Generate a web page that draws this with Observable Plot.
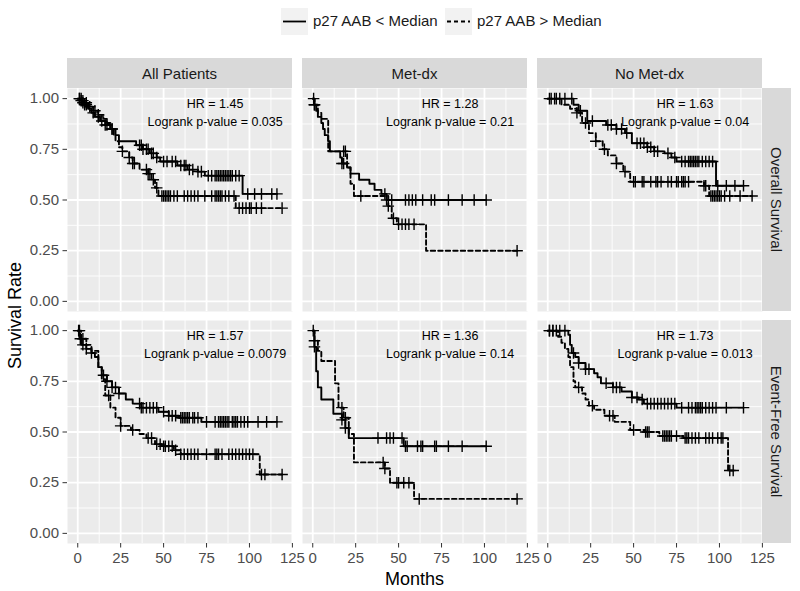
<!DOCTYPE html>
<html>
<head>
<meta charset="utf-8">
<script src="https://cdn.jsdelivr.net/npm/d3@7"></script>
<script src="https://cdn.jsdelivr.net/npm/@observablehq/plot@0.6"></script>
<style>
  body { margin: 0; background: #fff; font-family: "Liberation Sans", Arial, sans-serif; }
  #legend { position: relative; width: 800px; height: 42px; }
  .key { position: absolute; top: 8px; width: 27px; height: 27px; background: #F2F2F2; }
  .lab { position: absolute; top: 12px; font-size: 15px; color: #1A1A1A; white-space: nowrap; line-height: 18px; }
  #chart svg { display: block; }
</style>
</head>
<body>
<div id="legend"></div>
<div id="chart"></div>
<script>
// ---------- categories / labels ----------
const cols = ["All Patients", "Met-dx", "No Met-dx"];
const rows = ["Overall Survival", "Event-Free Survival"];
const groups = ["p27 AAB < Median", "p27 AAB > Median"];
const xTicks = [0, 25, 50, 75, 100, 125];
const xMinor = [12.5, 37.5, 62.5, 87.5, 112.5];
const yTicks = [0, 0.25, 0.5, 0.75, 1];
const yMinor = [0.125, 0.375, 0.625, 0.875];
const hrLabels = ["HR = 1.45", "HR = 1.28", "HR = 1.63", "HR = 1.57", "HR = 1.36", "HR = 1.73"];
const pLabels = ["Logrank p-value = 0.035", "Logrank p-value = 0.21", "Logrank p-value = 0.04",
                 "Logrank p-value = 0.0079", "Logrank p-value = 0.14", "Logrank p-value = 0.013"];
const annoX = 80, hrY = 0.975, pY = 0.887;

// ---------- Overall Survival, All Patients ----------
const osAllLoTime = [0, 2, 4, 6, 8, 10, 13, 16, 19, 22, 24, 34, 38, 42, 46, 48, 58, 64, 70, 74, 96];
const osAllLoSurv = [1, 0.99, 0.97, 0.95, 0.93, 0.91, 0.89, 0.87, 0.85, 0.82, 0.79, 0.77, 0.75, 0.73, 0.71, 0.69, 0.67, 0.65, 0.64, 0.62, 0.53];
const osAllLoCens = [1, 2, 3, 4, 5, 9, 12, 14, 16, 17, 20, 36, 37, 38, 40, 41, 43, 44, 46, 50, 52, 55, 57, 60, 62, 63, 65, 67, 70, 72, 76, 78, 80, 81, 82, 83, 84, 85, 86, 87, 88, 89, 90, 92, 94, 99, 103, 107, 113, 116];
const osAllHiTime = [0, 3, 6, 9, 12, 15, 17, 19, 21, 22, 24, 26, 30, 32, 36, 41, 43, 45, 47, 92];
const osAllHiSurv = [1, 0.98, 0.96, 0.94, 0.92, 0.90, 0.88, 0.85, 0.82, 0.79, 0.76, 0.74, 0.71, 0.68, 0.65, 0.63, 0.60, 0.56, 0.52, 0.46];
const osAllHiCens = [1, 2, 3, 5, 7, 10, 12, 20, 26, 30, 32, 33, 40, 41, 42, 44, 46, 49, 50, 51, 52, 53, 54, 56, 58, 62, 64, 66, 68, 70, 74, 78, 80, 81, 82, 83, 84, 86, 88, 91, 94, 96, 98, 100, 101, 104, 107, 119];

// ---------- Overall Survival, Met-dx ----------
const osMetLoTime = [0, 1, 2, 3, 5, 6, 7, 9, 10, 16, 17, 20, 22, 27, 33, 36, 40, 43];
const osMetLoSurv = [1, 0.97, 0.94, 0.91, 0.88, 0.85, 0.82, 0.79, 0.74, 0.71, 0.68, 0.66, 0.63, 0.60, 0.58, 0.55, 0.53, 0.50];
const osMetLoCens = [0.5, 1, 17, 18, 42, 43, 46, 54, 56, 58, 60, 64, 69, 71, 79, 87, 94, 101];
const osMetHiTime = [0, 1, 3, 5, 9, 20, 22, 24, 44, 46, 49, 66];
const osMetHiSurv = [1, 0.97, 0.93, 0.90, 0.74, 0.66, 0.58, 0.52, 0.47, 0.41, 0.38, 0.25];
const osMetHiCens = [1, 18, 19, 28, 44, 47, 50, 52, 54, 56, 59, 119];

// ---------- Overall Survival, No Met-dx ----------
const osNoLoTime = [0, 15, 18, 23, 34, 40, 45, 49, 58, 62, 68, 72, 75, 98];
const osNoLoSurv = [1, 0.97, 0.94, 0.89, 0.87, 0.85, 0.83, 0.78, 0.76, 0.74, 0.73, 0.71, 0.69, 0.57];
const osNoLoCens = [1, 4, 7, 10, 14, 19, 26, 35, 37, 40, 43, 46, 52, 54, 56, 58, 60, 62, 64, 70, 74, 78, 80, 82, 83, 84, 85, 86, 87, 88, 90, 92, 94, 96, 99, 104, 109, 114];
const osNoHiTime = [0, 8, 13, 17, 20, 24, 28, 32, 35, 40, 44, 48, 91, 94];
const osNoHiSurv = [1, 0.97, 0.95, 0.93, 0.88, 0.83, 0.79, 0.75, 0.72, 0.68, 0.64, 0.59, 0.57, 0.52];
const osNoHiCens = [2, 5, 17, 22, 28, 33, 40, 45, 50, 51, 55, 56, 60, 63, 64, 66, 70, 72, 75, 76, 78, 79, 80, 82, 91, 92, 95, 96, 97, 98, 99, 100, 101, 103, 106, 112, 119];

// ---------- Event-Free Survival, All Patients ----------
const efsAllLoTime = [0, 1, 2, 5, 8, 10, 12, 14, 17, 20, 24, 28, 32, 37, 47, 53, 59, 72];
const efsAllLoSurv = [1, 0.96, 0.93, 0.91, 0.89, 0.87, 0.82, 0.78, 0.75, 0.72, 0.69, 0.66, 0.64, 0.62, 0.60, 0.58, 0.57, 0.55];
const efsAllLoCens = [0.5, 1.5, 3, 5, 8, 15, 17, 20, 22, 24, 36, 37, 38, 40, 42, 44, 46, 50, 53, 55, 57, 60, 61, 62, 63, 64, 65, 67, 68, 70, 75, 80, 82, 83, 84, 85, 86, 87, 88, 90, 91, 92, 93, 95, 97, 99, 105, 110, 116];
const efsAllHiTime = [0, 2, 5, 8, 12, 14, 16, 19, 22, 25, 31, 36, 40, 45, 49, 56, 60, 106];
const efsAllHiSurv = [1, 0.96, 0.93, 0.90, 0.82, 0.76, 0.68, 0.62, 0.57, 0.53, 0.51, 0.49, 0.47, 0.44, 0.43, 0.41, 0.39, 0.29];
const efsAllHiCens = [1, 3, 18, 25, 32, 41, 43, 46, 48, 50, 51, 53, 55, 57, 60, 62, 64, 66, 68, 70, 75, 80, 81, 82, 84, 88, 90, 92, 94, 96, 98, 100, 102, 107, 109, 119];

// ---------- Event-Free Survival, Met-dx ----------
const efsMetLoTime = [0, 1, 2, 3, 5, 12, 17, 19, 21, 53];
const efsMetLoSurv = [1, 0.92, 0.80, 0.72, 0.66, 0.59, 0.56, 0.52, 0.47, 0.43];
const efsMetLoCens = [0.3, 1, 17, 19, 38, 43, 45, 47, 52, 54, 55, 61, 63, 64, 71, 72, 79, 87, 101];
const efsMetHiTime = [0, 1, 3, 5, 13, 15, 18, 21, 24, 42, 45, 59];
const efsMetHiSurv = [1, 0.95, 0.90, 0.85, 0.74, 0.62, 0.57, 0.49, 0.35, 0.32, 0.25, 0.17];
const efsMetHiCens = [1, 17, 19, 41, 42, 49, 50, 53, 56, 62, 119];

// ---------- Event-Free Survival, No Met-dx ----------
const efsNoLoTime = [0, 12, 13, 14, 16, 18, 22, 27, 29, 31, 38, 43, 49, 53, 56, 75];
const efsNoLoSurv = [1, 0.98, 0.93, 0.89, 0.87, 0.84, 0.81, 0.79, 0.77, 0.74, 0.72, 0.70, 0.67, 0.66, 0.64, 0.62];
const efsNoLoCens = [1, 3, 5, 7, 10, 15, 18, 22, 24, 34, 38, 40, 42, 49, 52, 55, 58, 60, 62, 64, 66, 68, 70, 72, 74, 78, 82, 84, 86, 87, 88, 89, 90, 92, 94, 96, 98, 104, 114];
const efsNoHiTime = [0, 6, 8, 10, 12, 13, 15, 16, 20, 22, 24, 27, 33, 39, 48, 57, 65, 79, 105];
const efsNoHiSurv = [1, 0.97, 0.94, 0.91, 0.87, 0.82, 0.75, 0.72, 0.69, 0.66, 0.63, 0.61, 0.58, 0.55, 0.51, 0.50, 0.48, 0.47, 0.31];
const efsNoHiCens = [1, 3, 18, 26, 36, 38, 50, 57, 58, 59, 67, 68, 69, 70, 71, 72, 75, 80, 81, 82, 84, 86, 88, 92, 94, 96, 99, 101, 102, 106, 108];

// ---------- assemble tables ----------
const curves = [
  [cols[0], rows[0], groups[0], osAllLoTime, osAllLoSurv, osAllLoCens],
  [cols[0], rows[0], groups[1], osAllHiTime, osAllHiSurv, osAllHiCens],
  [cols[1], rows[0], groups[0], osMetLoTime, osMetLoSurv, osMetLoCens],
  [cols[1], rows[0], groups[1], osMetHiTime, osMetHiSurv, osMetHiCens],
  [cols[2], rows[0], groups[0], osNoLoTime, osNoLoSurv, osNoLoCens],
  [cols[2], rows[0], groups[1], osNoHiTime, osNoHiSurv, osNoHiCens],
  [cols[0], rows[1], groups[0], efsAllLoTime, efsAllLoSurv, efsAllLoCens],
  [cols[0], rows[1], groups[1], efsAllHiTime, efsAllHiSurv, efsAllHiCens],
  [cols[1], rows[1], groups[0], efsMetLoTime, efsMetLoSurv, efsMetLoCens],
  [cols[1], rows[1], groups[1], efsMetHiTime, efsMetHiSurv, efsMetHiCens],
  [cols[2], rows[1], groups[0], efsNoLoTime, efsNoLoSurv, efsNoLoCens],
  [cols[2], rows[1], groups[1], efsNoHiTime, efsNoHiSurv, efsNoHiCens]
];

const lineData = [];
const censData = [];
for (const [col, row, group, time, surv, cens] of curves) {
  const key = col + "|" + row + "|" + group;
  time.forEach((t, i) => lineData.push({col, row, group, key, time: t, surv: surv[i]}));
  const end = Math.max(time[time.length - 1], cens[cens.length - 1]);
  lineData.push({col, row, group, key, time: end, surv: surv[surv.length - 1]});
  cens.forEach(t => {
    const i = d3.bisectRight(time, t) - 1;
    censData.push({col, row, group, time: t, surv: surv[Math.max(0, i)]});
  });
}
const annoData = [];
rows.forEach((row, r) => cols.forEach((col, c) => {
  annoData.push({col, row, y: hrY, text: hrLabels[r * 3 + c]});
  annoData.push({col, row, y: pY, text: pLabels[r * 3 + c]});
}));

const W = 800, H = 549;
const chart = Plot.plot({
  width: W, height: H,
  marginLeft: 67, marginRight: 37, marginTop: 46, marginBottom: 48,
  style: {fontFamily: "'Liberation Sans', Arial, sans-serif", fontSize: "15px", color: "#4D4D4D", background: "white", overflow: "visible"},
  x: {domain: [-5.96, 125.06]},
  y: {domain: [-0.05, 1.05]},
  fx: {domain: cols, axis: null, paddingInner: 0.0425, paddingOuter: 0},
  fy: {domain: rows, axis: null, paddingInner: 0.0388, paddingOuter: 0},
  marks: [
    Plot.frame({fill: "#EBEBEB", stroke: "none"}),
    Plot.gridX(xMinor, {stroke: "white", strokeOpacity: 1, strokeWidth: 0.9}),
    Plot.gridY(yMinor, {stroke: "white", strokeOpacity: 1, strokeWidth: 0.9}),
    Plot.gridX(xTicks, {stroke: "white", strokeOpacity: 1, strokeWidth: 1.8}),
    Plot.gridY(yTicks, {stroke: "white", strokeOpacity: 1, strokeWidth: 1.8}),
    Plot.line(lineData.filter(d => d.group === groups[0]), {x: "time", y: "surv", z: "key", fx: "col", fy: "row", curve: "step-after", stroke: "black", strokeWidth: 1.9}),
    Plot.line(lineData.filter(d => d.group === groups[1]), {x: "time", y: "surv", z: "key", fx: "col", fy: "row", curve: "step-after", stroke: "black", strokeWidth: 1.9, strokeDasharray: "4.5,3"}),
    Plot.dot(censData, {x: "time", y: "surv", fx: "col", fy: "row", symbol: "plus", r: 3.8, stroke: "black", strokeWidth: 1.4}),
    Plot.text(annoData, {x: () => annoX, y: "y", text: "text", fx: "col", fy: "row", fill: "black", fontSize: 12.5, textAnchor: "middle"}),
    Plot.axisX({ticks: xTicks, tickSize: 4.5, tickPadding: 4, label: null, stroke: "#333333", fill: "#4D4D4D"}),
    Plot.axisY({ticks: yTicks, tickFormat: d3.format(".2f"), tickSize: 4.5, tickPadding: 4, label: null, stroke: "#333333", fill: "#4D4D4D"})
  ]
});
document.getElementById("chart").appendChild(chart);

// ---------- strips and axis titles (positioned through Plot's facet scales) ----------
const fx = chart.scale("fx"), fy = chart.scale("fy");
const svg = d3.select(chart);
const stripH = 30;
const g = svg.append("g").attr("font-family", "'Liberation Sans', Arial, sans-serif");
const top0 = fy.apply(rows[0]);
cols.forEach(c => {
  const x0 = fx.apply(c);
  g.append("rect").attr("x", x0).attr("y", top0 - stripH).attr("width", fx.bandwidth).attr("height", stripH).attr("fill", "#D9D9D9");
  g.append("text").attr("x", x0 + fx.bandwidth / 2).attr("y", top0 - stripH / 2).attr("text-anchor", "middle")
    .attr("dominant-baseline", "central").attr("font-size", 15).attr("fill", "#1A1A1A").text(c);
});
const right0 = fx.apply(cols[cols.length - 1]) + fx.bandwidth;
rows.forEach(r => {
  const y0 = fy.apply(r);
  g.append("rect").attr("x", right0).attr("y", y0).attr("width", stripH - 1).attr("height", fy.bandwidth).attr("fill", "#D9D9D9");
  const cx = right0 + (stripH - 1) / 2, cy = y0 + fy.bandwidth / 2;
  g.append("text").attr("transform", `translate(${cx},${cy}) rotate(90)`).attr("text-anchor", "middle")
    .attr("dominant-baseline", "central").attr("font-size", 15).attr("fill", "#1A1A1A").text(r);
});
const xMid = (fx.apply(cols[0]) + right0) / 2;
const yMid = (top0 + fy.apply(rows[1]) + fy.bandwidth) / 2;
const bottom = fy.apply(rows[1]) + fy.bandwidth;
g.append("text").attr("x", xMid).attr("y", bottom + 42).attr("text-anchor", "middle")
  .attr("font-size", 18).attr("fill", "black").text("Months");
g.append("text").attr("transform", `translate(15,${yMid}) rotate(-90)`).attr("text-anchor", "middle")
  .attr("dominant-baseline", "central").attr("font-size", 18).attr("fill", "black").text("Survival Rate");

// ---------- legend ----------
const legend = d3.select("#legend");
const items = [
  {label: groups[0], dash: null, keyX: 281, labX: 313},
  {label: groups[1], dash: "4,3", keyX: 445, labX: 477}
];
items.forEach(it => {
  const k = legend.append("svg").attr("class", "key").style("left", it.keyX + "px").attr("width", 27).attr("height", 27);
  const ln = k.append("line").attr("x1", 2).attr("x2", 25).attr("y1", 13.5).attr("y2", 13.5).attr("stroke", "black").attr("stroke-width", 1.8);
  if (it.dash) ln.attr("stroke-dasharray", it.dash);
  legend.append("div").attr("class", "lab").style("left", it.labX + "px").text(it.label);
});
</script>
</body>
</html>
